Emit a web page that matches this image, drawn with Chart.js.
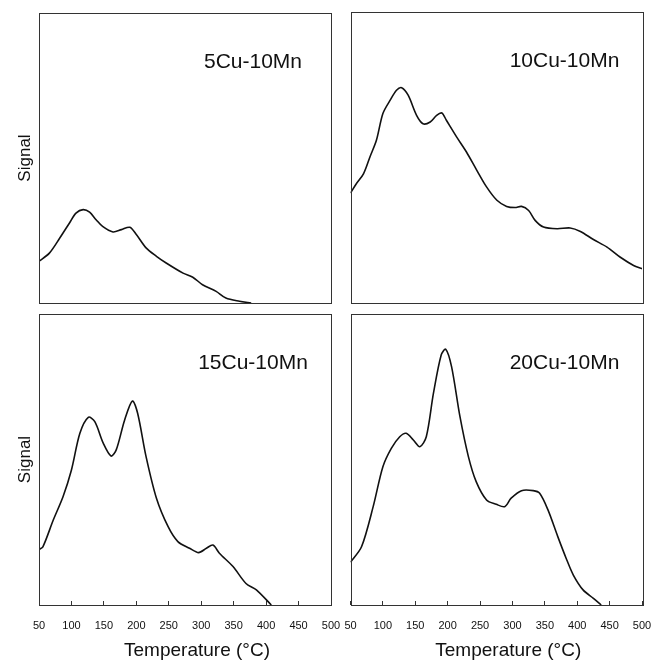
<!DOCTYPE html>
<html lang="en">
<head>
    <meta charset="UTF-8">
    <title>TPR profiles - Cu-Mn catalysts</title>
    <script src="https://cdn.jsdelivr.net/npm/chart.js"></script>
    <style>
        body {
            margin: 0;
            background: #fff;
            width: 665px;
            height: 664px;
            overflow: hidden;
        }
        .panel {
            position: absolute;
        }
    </style>
</head>
<body>
    <canvas id="chart5" class="panel" width="345" height="310" style="left:0;top:0"></canvas>
    <canvas id="chart10" class="panel" width="325" height="310" style="left:340px;top:0"></canvas>
    <canvas id="chart15" class="panel" width="345" height="359" style="left:0;top:305px"></canvas>
    <canvas id="chart20" class="panel" width="325" height="359" style="left:340px;top:305px"></canvas>

    <script>
        // temperature ticks (°C)
        const tempTicks = [50, 100, 150, 200, 250, 300, 350, 400, 450, 500];

        // 5Cu-10Mn
        const temps5  = [50, 66, 82, 97, 107, 118, 128, 138, 148, 164, 177, 190, 200, 215, 231, 246, 272, 287, 302, 323, 338, 359, 377];
        const signal5 = [14.4, 17.2, 22.4, 27.6, 31.0, 32.2, 31.3, 28.7, 26.4, 24.5, 25.3, 26.1, 23.6, 19.0, 16.1, 13.8, 10.3, 8.9, 6.3, 4.0, 1.7, 0.6, 0];

        // 10Cu-10Mn
        const temps10  = [50, 59, 70, 80, 90, 100, 111, 121, 129, 139, 152, 162, 173, 183, 191, 198, 214, 229, 245, 260, 276, 291, 304, 314, 325, 335, 348, 369, 389, 405, 425, 446, 466, 487, 500];
        const signal10 = [37.8, 41.0, 44.4, 50.2, 55.9, 65.1, 69.6, 73.1, 74.0, 71.4, 64.5, 61.6, 62.2, 64.5, 65.3, 62.8, 57.0, 51.9, 45.6, 39.9, 35.3, 33.2, 32.8, 33.2, 31.8, 28.4, 26.1, 25.5, 25.8, 24.6, 21.8, 19.2, 15.8, 12.9, 11.8];

        // 15Cu-10Mn
        const temps15  = [50, 56, 72, 87, 100, 113, 126, 136, 149, 161, 169, 182, 194, 202, 215, 231, 249, 264, 282, 296, 308, 318, 328, 349, 369, 385, 408];
        const signal15 = [19.1, 20.0, 29.2, 37.2, 46.4, 59.0, 64.5, 63.0, 55.6, 51.2, 53.3, 63.6, 70.1, 65.9, 51.0, 36.7, 26.9, 21.8, 19.5, 18.0, 19.5, 20.6, 17.8, 13.2, 7.4, 5.2, 0];

        // 20Cu-10Mn
        const temps20  = [50, 67, 85, 100, 113, 126, 136, 147, 157, 167, 178, 190, 197, 206, 219, 232, 244, 260, 275, 288, 298, 314, 332, 342, 355, 370, 383, 394, 409, 425, 437];
        const signal20 = [14.7, 20.0, 33.8, 47.5, 53.8, 57.8, 59.0, 56.7, 54.4, 57.8, 72.7, 85.9, 87.9, 81.9, 64.7, 51.0, 42.4, 36.1, 34.6, 33.8, 36.7, 39.3, 39.3, 38.4, 32.6, 23.5, 16.0, 10.3, 5.2, 2.3, 0];

        const toPoints = (xs, ys) => xs.map((x, i) => ({ x: x, y: ys[i] }));

        // draws the box round the plot area and the panel texts
        const panelDecor = {
            id: 'panelDecor',
            afterDraw(chart, args, opts) {
                const ctx = chart.ctx;
                const a = chart.chartArea;
                ctx.save();
                ctx.strokeStyle = '#333';
                ctx.lineWidth = 1;
                ctx.strokeRect(Math.round(a.left) + 0.5, Math.round(a.top) + 0.5,
                               Math.round(a.right - a.left), Math.round(a.bottom - a.top));
                ctx.fillStyle = '#111';
                ctx.font = '21px "Liberation Sans", Arial, sans-serif';
                ctx.textAlign = 'center';
                ctx.textBaseline = 'alphabetic';
                ctx.fillText(opts.label, a.left + 214, a.top + 55);
                if (opts.xTitle) {
                    ctx.font = '19px "Liberation Sans", Arial, sans-serif';
                    ctx.fillText(opts.xTitle, (a.left + a.right) / 2 + 12, a.bottom + 51);
                }
                ctx.restore();
            }
        };

        function makePanel(id, label, xs, ys, opt) {
            const ctx = document.getElementById(id).getContext('2d');
            return new Chart(ctx, {
                type: 'line',
                data: {
                    datasets: [{
                        data: toPoints(xs, ys),
                        borderColor: '#111',
                        borderWidth: 1.6,
                        pointRadius: 0,
                        tension: 0.3,
                        fill: false
                    }]
                },
                options: {
                    responsive: false,
                    animation: false,
                    events: [],
                    layout: { padding: opt.padding },
                    plugins: {
                        legend: { display: false },
                        tooltip: { enabled: false },
                        panelDecor: { label: label, xTitle: opt.bottomRow ? 'Temperature (\u00B0C)' : null }
                    },
                    scales: {
                        x: {
                            type: 'linear',
                            min: 50,
                            max: 500,
                            display: opt.bottomRow,
                            afterBuildTicks: (scale) => { scale.ticks = tempTicks.map(v => ({ value: v })); },
                            afterFit: (scale) => {
                                scale.height = opt.bottomRow ? 59 : 0;
                                scale.paddingLeft = 0;
                                scale.paddingRight = 0;
                            },
                            border: { display: false },
                            grid: {
                                drawOnChartArea: false,
                                drawTicks: true,
                                tickLength: -4,
                                color: '#333'
                            },
                            ticks: {
                                autoSkip: false,
                                maxRotation: 0,
                                padding: 18,
                                color: '#111',
                                font: { family: '"Liberation Sans", Arial, sans-serif', size: 11 }
                            }
                        },
                        y: {
                            min: 0,
                            max: 100,
                            display: opt.leftCol,
                            afterFit: (scale) => { scale.width = opt.leftCol ? 39 : 0; },
                            border: { display: false },
                            grid: { display: false },
                            ticks: { display: false },
                            title: {
                                display: true,
                                text: 'Signal',
                                color: '#111',
                                padding: { top: 15, bottom: 0 },
                                font: { family: '"Liberation Sans", Arial, sans-serif', size: 17 }
                            }
                        }
                    }
                },
                plugins: [panelDecor]
            });
        }

        makePanel('chart5', '5Cu-10Mn', temps5, signal5,
            { leftCol: true, bottomRow: false, padding: { left: 0, right: 14, top: 13, bottom: 7 } });
        makePanel('chart10', '10Cu-10Mn', temps10, signal10,
            { leftCol: false, bottomRow: false, padding: { left: 10.5, right: 23, top: 12, bottom: 7 } });
        makePanel('chart15', '15Cu-10Mn', temps15, signal15,
            { leftCol: true, bottomRow: true, padding: { left: 0, right: 14, top: 9, bottom: 0 } });
        makePanel('chart20', '20Cu-10Mn', temps20, signal20,
            { leftCol: false, bottomRow: true, padding: { left: 10.5, right: 23, top: 9, bottom: 0 } });
    </script>
</body>
</html>
